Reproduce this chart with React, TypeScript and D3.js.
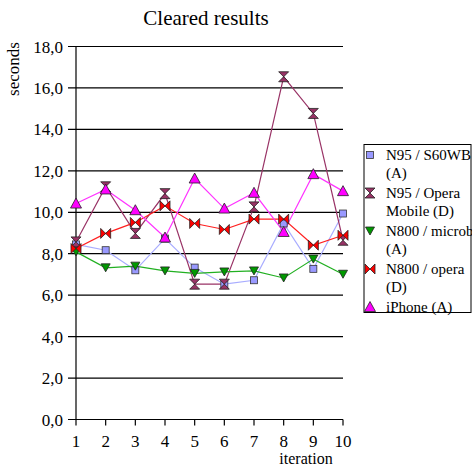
import React from "react";
import * as d3 from "d3";

const iterations = [1, 2, 3, 4, 5, 6, 7, 8, 9, 10];
const yTicks = [0, 2, 4, 6, 8, 10, 12, 14, 16, 18];

const n95S60wb = [8.45, 8.17, 7.2, 8.73, 7.33, 6.53, 6.72, 9.46, 7.27, 9.94];
const n95Opera = [8.57, 11.23, 8.98, 10.9, 6.53, 6.53, 10.26, 16.54, 14.77, 8.65];
const n800Microb = [8.09, 7.32, 7.4, 7.17, 7.05, 7.12, 7.17, 6.83, 7.74, 7.01];
const n800Opera = [8.25, 8.98, 9.51, 10.31, 9.46, 9.17, 9.67, 9.67, 8.41, 8.89];
const iphone = [10.42, 11.1, 10.1, 8.78, 11.63, 10.18, 10.94, 9.05, 11.84, 11.02];

const seriesNames = [
  ["N95 / S60WB", "(A)"],
  ["N95 / Opera", "Mobile (D)"],
  ["N800 / microb", "(A)"],
  ["N800 / opera", "(D)"],
  ["iPhone (A)"],
];

const series = [
  { values: n95S60wb, line: "#a8acff", fill: "#9999ff", shape: "square" },
  { values: n95Opera, line: "#993366", fill: "#993366", shape: "hourglass" },
  { values: n800Microb, line: "#22b022", fill: "#009900", shape: "down" },
  { values: n800Opera, line: "#ff2020", fill: "#ff0000", shape: "bowtie" },
  { values: iphone, line: "#ff33ff", fill: "#ff00ff", shape: "up" },
];

const font = "'Liberation Serif', 'Times New Roman', serif";

function Marker({ shape, x, y, fill }: { shape: string; x: number; y: number; fill: string }) {
  const s = 5;
  let d = "";
  if (shape === "square") {
    return <rect x={x - 3.5} y={y - 3.5} width={7} height={7} fill={fill} stroke="#333" strokeWidth={0.8} />;
  } else if (shape === "hourglass") {
    d = `M${x - s},${y - s}L${x + s},${y - s}L${x - s},${y + s}L${x + s},${y + s}Z`;
  } else if (shape === "bowtie") {
    d = `M${x - s},${y - s}L${x + s},${y + s}L${x + s},${y - s}L${x - s},${y + s}Z`;
  } else if (shape === "down") {
    d = `M${x - 4.5},${y - 4}L${x + 4.5},${y - 4}L${x},${y + 4}Z`;
  } else {
    d = `M${x - 5.5},${y + 4.5}L${x + 5.5},${y + 4.5}L${x},${y - 5.5}Z`;
  }
  return <path d={d} fill={fill} stroke="#222" strokeWidth={0.8} strokeLinejoin="miter" />;
}

export default function App() {
  const width = 472;
  const height = 468;
  const margin = { left: 76, right: 343, top: 46.5, bottom: 419.5 };

  const x = d3.scaleLinear().domain([1, 10]).range([margin.left, margin.right]);
  const y = d3.scaleLinear().domain([0, 18]).range([margin.bottom, margin.top]);

  const line = d3
    .line<number>()
    .x((_, i) => x(iterations[i]))
    .y((d) => y(d));

  return (
    <svg
      width={width}
      height={height}
      style={{ position: "absolute", left: 0, top: 0, background: "#fff" }}
      fontFamily={font}
    >
      <text x={206} y={25} textAnchor="middle" fontSize={21}>
        Cleared results
      </text>
      <text transform="translate(19,69) rotate(-90)" textAnchor="middle" fontSize={17}>
        seconds
      </text>

      {yTicks.map((t) => (
        <g key={t}>
          <line x1={68} x2={margin.right} y1={y(t)} y2={y(t)} stroke="#000" strokeWidth={1.2} />
          <text x={63} y={y(t) + 6} textAnchor="end" fontSize={17}>
            {d3.format(".1f")(t).replace(".", ",")}
          </text>
        </g>
      ))}
      <line x1={margin.left} x2={margin.left} y1={margin.top} y2={margin.bottom} stroke="#000" strokeWidth={1.2} />
      {iterations.map((it) => (
        <g key={it}>
          <line x1={x(it)} x2={x(it)} y1={margin.bottom} y2={margin.bottom + 6} stroke="#000" strokeWidth={1.2} />
          <text x={x(it)} y={447} textAnchor="middle" fontSize={17}>
            {it}
          </text>
        </g>
      ))}
      <text x={306} y={464} textAnchor="middle" fontSize={16}>
        iteration
      </text>

      {series.map((s, i) => (
        <path key={i} d={line(s.values) || ""} fill="none" stroke={s.line} strokeWidth={1.2} />
      ))}
      {series.map((s, i) => (
        <g key={i}>
          {s.values.map((v, j) => (
            <Marker key={j} shape={s.shape} x={x(iterations[j])} y={y(v)} fill={s.fill} />
          ))}
        </g>
      ))}

      <rect x={364} y={144.5} width={107} height={168} fill="#fff" stroke="#000" strokeWidth={1} />
      {(() => {
        let yy = 160;
        return series.map((s, i) => {
          const lines = seriesNames[i];
          const y0 = yy;
          yy += lines.length * 18 + 2;
          return (
            <g key={i}>
              <Marker shape={s.shape} x={370} y={y0 - 5} fill={s.fill} />
              {lines.map((l, k) => (
                <text key={k} x={386} y={y0 + k * 18} fontSize={15}>
                  {l}
                </text>
              ))}
            </g>
          );
        });
      })()}
    </svg>
  );
}
